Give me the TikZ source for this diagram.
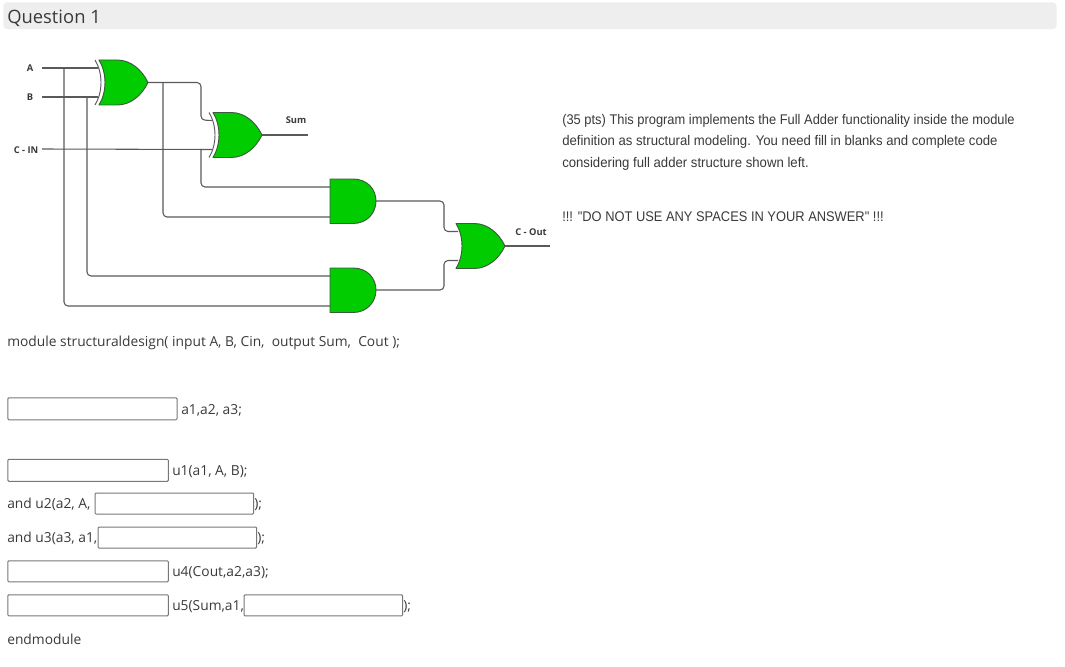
\documentclass[tikz,border=0pt]{standalone}
\usepackage{fontspec}
\setmainfont{Open Sans}
\newfontfamily\arialf[FakeStretch=0.92]{Liberation Sans}
\newfontfamily\arialg[FakeStretch=0.94]{Liberation Sans}
\definecolor{gatefill}{HTML}{00CC00}
\definecolor{gateline}{HTML}{3C5A3C}
\definecolor{wirec}{HTML}{5A5A5A}
\definecolor{barc}{HTML}{EEEEEE}
\definecolor{txt}{HTML}{3A3A3A}
\definecolor{boxc}{HTML}{777777}
\tikzset{
  x=0.75pt,y=-0.75pt,
  wire/.style={draw=wirec,line width=0.8pt,rounded corners=3pt},
  gatebody/.style={draw=gateline,fill=gatefill,line width=0.7pt,line join=round},
  xorarc/.style={draw=wirec,line width=0.7pt},
  code/.style={anchor=base west,inner sep=0pt,text=txt,font=\fontsize{10.35pt}{12pt}\selectfont},
  blank/.style={draw=boxc,fill=white,line width=0.75pt,rounded corners=0.8pt,inner sep=0pt},
  lbl/.style={anchor=base,inner sep=0pt,text=txt,font=\fontsize{7pt}{8pt}\selectfont\bfseries},
  desc/.style={anchor=base west,inner sep=0pt,text=txt,font=\arialf\fontsize{10.5pt}{12pt}\selectfont},
  descb/.style={desc,font=\arialg\fontsize{10.5pt}{12pt}\selectfont},
  pics/xorgate/.style={code={
    \draw[xorarc] (-4,0) .. controls (4,13) and (4,32) .. (-4,45);
    \draw[gatebody] (0,0) -- (18,0) .. controls (32,0) and (43,10) .. (49,22.5)
       .. controls (43,35) and (32,45) .. (18,45) -- (0,45)
       .. controls (8,32) and (8,13) .. (0,0) -- cycle;
    \coordinate (-a) at (-1,8);
    \coordinate (-b) at (-1,37);
    \coordinate (-o) at (49,22.5);
  }},
  pics/orgate/.style={code={
    \draw[gatebody] (0,0) -- (18,0) .. controls (32,0) and (43,10) .. (49,22.5)
       .. controls (43,35) and (32,45) .. (18,45) -- (0,45)
       .. controls (8,32) and (8,13) .. (0,0) -- cycle;
    \coordinate (-a) at (2,8);
    \coordinate (-b) at (2,37);
    \coordinate (-o) at (49,22.5);
  }},
  pics/andgate/.style={code={
    \draw[gatebody] (0,0) -- (23,0) .. controls (37,0) and (46,10) .. (46,22)
       .. controls (46,34) and (37,44.5) .. (23,44.5) -- (0,44.5) -- cycle;
    \coordinate (-a) at (0,8);
    \coordinate (-b) at (0,38);
    \coordinate (-o) at (46,22);
  }},
}
\begin{document}
\begin{tikzpicture}
\useasboundingbox (0,0) rectangle (1065,667);
\fill[white] (0,0) rectangle (1065,667);
\node[draw=none,fill=barc,rounded corners=3pt,minimum width=790pt,minimum height=20.2pt,inner sep=0pt,anchor=north west] (bar) at (3,2) {};
\node[anchor=base west,inner sep=0pt,text=txt,font=\fontsize{13.8pt}{16pt}\selectfont] (q) at (7,23.5) {Question 1};

% gates
\pic (x1) at (99,60) {xorgate};
\pic (x2) at (213,112.5) {xorgate};
\pic (a1) at (330,179) {andgate};
\pic (a2) at (330,268) {andgate};
\pic (o1) at (456,223.5) {orgate};

% labels and free ends
\node[lbl] (la) at (30,71.5) {A};
\node[lbl] (lb) at (30,100.5) {B};
\node[lbl] (lc) at (26,153) {C - IN};
\node[lbl] (ls) at (296,123.5) {Sum};
\node[lbl] (lo) at (531,235) {C - Out};
\coordinate (ia) at (42,68);
\coordinate (ib) at (42,97);
\coordinate (ic) at (42,149);
\coordinate (os) at (308,135);
\coordinate (oc) at (550,246);

% wires
\draw[wire] (ia) -- (x1-a);
\draw[wire] (ib) -- (x1-b);
\draw[wire] (ic) -- (x2-b);
\draw[wire] (x1-o) -| (201,120) -- (x2-a);
\draw[wire] (x1-o -| 163,0) -- (163,217) -- (a1-b);
\draw[wire] (201,149) -- (201,187) -- (a1-a);
\draw[wire] (ia -| 64,0) -- (64,306) -- (a2-b);
\draw[wire] (ib -| 87,0) -- (87,276) -- (a2-a);
\draw[wire] (a1-o) -- (444,201) -- (444,231.5) -- (o1-a);
\draw[wire] (a2-o) -- (444,290) -- (444,260.5) -- (o1-b);
\draw[wire] (x2-o) -- (os);
\draw[wire] (o1-o) -- (oc);

% right-hand text
\node[desc] (d1) at (562,125) {(35 pts) This program implements the Full Adder functionality inside the module};
\node[descb] (d2) at (562,146) {definition as structural modeling. You need fill in blanks and complete code};
\node[descb] (d3) at (562,167) {considering full adder structure shown left.};
\node[desc] (d4) at (562,221.5) {!!! "DO NOT USE ANY SPACES IN YOUR ANSWER" !!!};

% code
\node[code] (m) at (7,346) {module structuraldesign( input A, B, Cin,\ \ output Sum,\ \ Cout );};
\node[blank,minimum width=126.9pt,minimum height=16.5pt,anchor=north west] (b1) at (7.3,397.3) {};
\node[code] (t1) at (181,414) {a1,a2, a3;};
\node[blank,minimum width=120.4pt,minimum height=16.5pt,anchor=north west] (b2) at (7.3,458.8) {};
\node[code] (t2) at (172,475) {u1(a1, A, B);};
\node[code] (t3) at (7,508.5) {and u2(a2, A,};
\node[blank,minimum width=119pt,minimum height=15.8pt,anchor=north west] (b3) at (94.5,492.5) {};
\node[code] (t3b) at (254,508.5) {);};
\node[code] (t4) at (7,542.5) {and u3(a3, a1,};
\node[blank,minimum width=119pt,minimum height=15.8pt,anchor=north west] (b4) at (97.5,526.5) {};
\node[code] (t4b) at (257,542.5) {);};
\node[blank,minimum width=120.4pt,minimum height=15.8pt,anchor=north west] (b5) at (7.3,560.3) {};
\node[code] (t5) at (172,576.5) {u4(Cout,a2,a3);};
\node[blank,minimum width=120.4pt,minimum height=15.8pt,anchor=north west] (b6) at (7.3,594.3) {};
\node[code] (t6) at (172,610.5) {u5(Sum,a1,};
\node[blank,minimum width=119pt,minimum height=15.8pt,anchor=north west] (b7) at (243.5,594.3) {};
\node[code] (t6b) at (403,610.5) {);};
\node[code] (t7) at (7,644) {endmodule};
\end{tikzpicture}
\end{document}
